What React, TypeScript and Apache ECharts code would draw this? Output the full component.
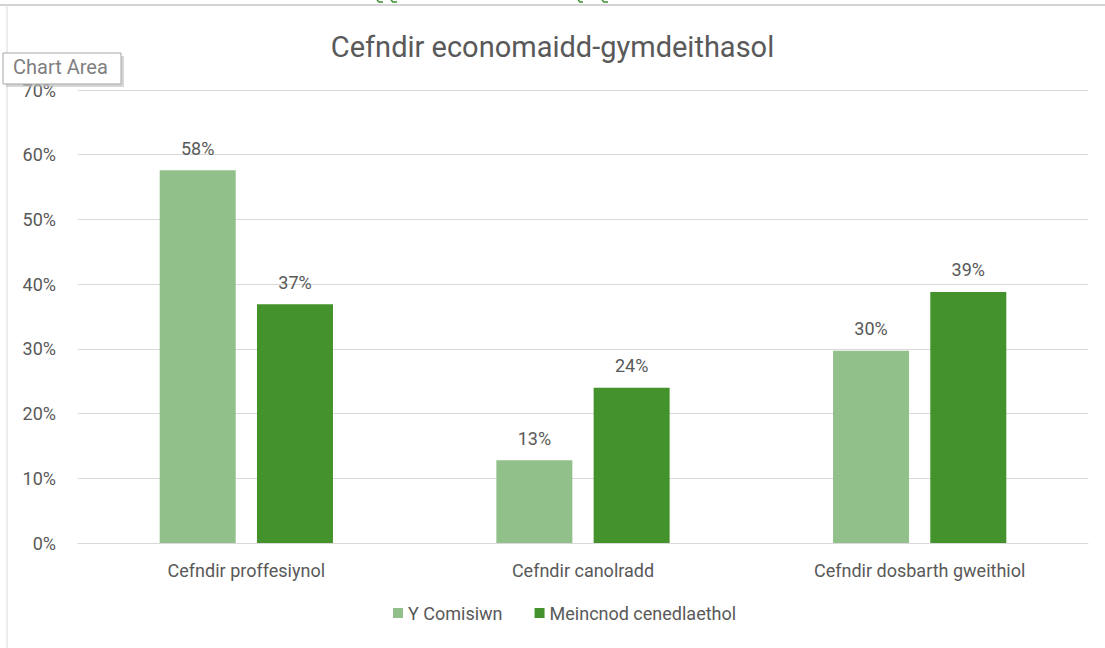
import React, { useEffect, useRef } from "react";
import * as echarts from "echarts";

const categories = ["Cefndir proffesiynol", "Cefndir canolradd", "Cefndir dosbarth gweithiol"];
const seriesNames = ["Y Comisiwn", "Meincnod cenedlaethol"];
const comisiwn = [57.6, 12.8, 29.7];
const meincnod = [36.9, 24.0, 38.8];
const yTicks = [0, 10, 20, 30, 40, 50, 60, 70];
const colors = ["#92C08A", "#43922B"];
const titleText = "Cefndir economaidd-gymdeithasol";
const FONT = "Roboto, 'Open Sans', sans-serif";

export default function App() {
  const ref = useRef<HTMLDivElement>(null);
  useEffect(() => {
    document.body.style.margin = "0";
    const chart = echarts.init(ref.current!, null, { renderer: "svg" });
    const labelCfg = {
      show: true,
      position: "top",
      distance: 13,
      color: "#595959",
      fontSize: 18,
      fontFamily: FONT,
      formatter: (p: any) => Math.round(p.value) + "%",
    };
    chart.setOption({
      animation: false,
      backgroundColor: "#ffffff",
      textStyle: { fontFamily: FONT },
      title: {
        text: titleText,
        left: "center",
        top: 27,
        textStyle: { color: "#595959", fontSize: 29, fontWeight: "normal", fontFamily: FONT },
      },
      grid: { left: 78, right: 17, top: 90, bottom: 105, containLabel: false },
      xAxis: {
        type: "category",
        data: categories,
        axisLine: { show: true, lineStyle: { color: "#D9D9D9", width: 1 } },
        axisTick: { show: false },
        axisLabel: { color: "#595959", fontSize: 18, margin: 18, fontFamily: FONT },
      },
      yAxis: {
        type: "value",
        min: yTicks[0],
        max: yTicks[yTicks.length - 1],
        interval: 10,
        axisLine: { show: false },
        axisTick: { show: false },
        splitLine: { lineStyle: { color: "#D9D9D9", width: 1 } },
        axisLabel: { color: "#595959", fontSize: 18, margin: 22, formatter: "{value}%", fontFamily: FONT },
      },
      legend: {
        data: seriesNames,
        bottom: 21,
        left: 388,
        itemWidth: 10,
        itemHeight: 10,
        itemGap: 32,
        icon: "rect",
        textStyle: { color: "#595959", fontSize: 18, fontFamily: FONT },
      },
      series: [
        {
          name: seriesNames[0],
          type: "bar",
          data: comisiwn,
          barWidth: 76,
          barGap: "28%",
          itemStyle: { color: colors[0] },
          label: labelCfg,
        },
        {
          name: seriesNames[1],
          type: "bar",
          data: meincnod,
          barWidth: 76,
          barGap: "28%",
          itemStyle: { color: colors[1] },
          label: labelCfg,
        },
      ],
      graphic: [
        { type: "line", shape: { x1: 0, y1: 5, x2: 1105, y2: 5 }, style: { stroke: "#D4D4D4", lineWidth: 2 }, z: 10 },
        { type: "line", shape: { x1: 7, y1: 5, x2: 7, y2: 648 }, style: { stroke: "#DADADA", lineWidth: 1 }, z: 10 },
        { type: "polyline", shape: { points: [[377, 0], [379, 2], [383, 2]] }, style: { stroke: "#3A8F2E", lineWidth: 1.5, fill: null }, z: 10 },
        { type: "polyline", shape: { points: [[391, 0], [393, 2], [397, 2]] }, style: { stroke: "#3A8F2E", lineWidth: 1.5, fill: null }, z: 10 },
        { type: "polyline", shape: { points: [[578, 0], [580, 2], [583, 2]] }, style: { stroke: "#3A8F2E", lineWidth: 1.5, fill: null }, z: 10 },
        { type: "polyline", shape: { points: [[602, 0], [604, 2], [608, 2]] }, style: { stroke: "#3A8F2E", lineWidth: 1.5, fill: null }, z: 10 },
        {
          type: "rect",
          shape: { x: 6, y: 56, width: 118, height: 31 },
          style: { fill: "#BBBBBB", opacity: 0.6 },
          z: 20,
        },
        {
          type: "rect",
          shape: { x: 3, y: 53, width: 118, height: 31 },
          style: { fill: "#ffffff", stroke: "#A6A6A6", lineWidth: 1 },
          z: 21,
        },
        {
          type: "text",
          x: 13,
          y: 57,
          style: { text: "Chart Area", fill: "#7F7F7F", fontSize: 20, fontFamily: FONT },
          z: 22,
        },
      ],
    });
    return () => chart.dispose();
  }, []);
  return <div ref={ref} style={{ width: 1105, height: 648 }} />;
}
